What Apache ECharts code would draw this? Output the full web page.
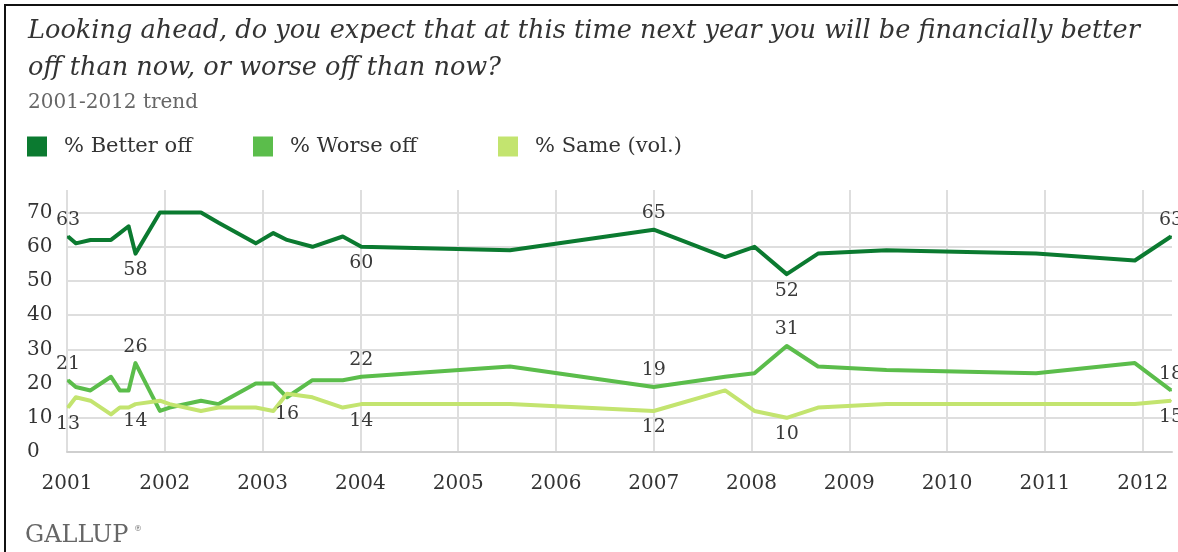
<!DOCTYPE html>
<html>
<head>
<meta charset="utf-8">
<script src="https://cdn.jsdelivr.net/npm/echarts@6/dist/echarts.min.js"></script>
<style>
html, body { margin: 0; padding: 0; background: #fff; }
#chart { width: 1178px; height: 552px; }
</style>
</head>
<body>
<div id="chart"></div>
<script>
// survey dates as decimal years
const surveyDates = [2001.01, 2001.09, 2001.24, 2001.45, 2001.54, 2001.63, 2001.70, 2001.95, 2002.05, 2002.37,
  2002.55, 2002.93, 2003.11, 2003.25, 2003.51, 2003.82, 2004.01, 2005.53, 2007.00, 2007.73,
  2008.03, 2008.36, 2008.68, 2009.38, 2010.91, 2011.92, 2012.29]
const betterOff = [63, 61, 62, 62, 64, 66, 58, 70, 70, 70, 67, 61, 64, 62, 60, 63, 60, 59, 65, 57, 60, 52, 58, 59, 58, 56, 63]
const worseOff = [21, 19, 18, 22, 18, 18, 26, 12, 13, 15, 14, 20, 20, 16, 21, 21, 22, 25, 19, 22, 23, 31, 25, 24, 23, 26, 18]
const sameVol = [13, 16, 15, 11, 13, 13, 14, 15, 14, 12, 13, 13, 12, 17, 16, 13, 14, 14, 12, 18, 12, 10, 13, 14, 14, 14, 15]

const seriesNames = ['% Better off', '% Worse off', '% Same (vol.)']
const yearTicks = [2001, 2002, 2003, 2004, 2005, 2006, 2007, 2008, 2009, 2010, 2011, 2012]

// which points carry a value label, and on which side
const betterLabels = { 0: 'top', 6: 'bottom', 16: 'bottom', 18: 'top', 21: 'bottom', 26: 'top' }
const worseLabels = { 0: 'top', 6: 'top', 13: 'bottom', 16: 'top', 18: 'top', 21: 'top', 26: 'top' }
const sameLabels = { 0: 'bottom', 6: 'bottom', 16: 'bottom', 18: 'bottom', 21: 'bottom', 26: 'bottom' }

const colors = ['#0b7a30', '#5bbd4b', '#c3e46f']
const serif = 'DejaVu Serif'

function buildData(values, labels) {
  return surveyDates.map((d, i) => {
    const item = { value: [d, values[i]] }
    if (labels[i]) {
      item.label = { show: true, position: labels[i] }
    }
    return item
  })
}

function makeSeries(name, values, labels, color) {
  return {
    name: name,
    type: 'line',
    data: buildData(values, labels),
    showSymbol: true,
    symbol: 'circle',
    symbolSize: 2,
    itemStyle: { color: color },
    lineStyle: { color: color, width: 4, join: 'round' },
    label: {
      show: false,
      color: '#3a3a3a',
      fontFamily: serif,
      fontSize: 19,
      distance: 6,
      formatter: (p) => p.value[1],
    },
    emphasis: { disabled: true },
  }
}

const legendLefts = [27, 253, 498]

const chart = echarts.init(document.getElementById('chart'))
const option = {
  animation: false,
  color: colors,
  title: [
    {
      text: 'Looking ahead, do you expect that at this time next year you will be financially better\noff than now, or worse off than now?',
      left: 28,
      top: 13,
      padding: 0,
      textStyle: {
        fontFamily: serif,
        fontStyle: 'italic',
        fontWeight: 'normal',
        fontSize: 25.6,
        lineHeight: 37,
        color: '#333',
      },
    },
    {
      text: '2001-2012 trend',
      left: 28,
      top: 93,
      padding: 0,
      textStyle: { fontFamily: serif, fontWeight: 'normal', fontSize: 20, color: '#666' },
    },
  ],
  legend: seriesNames.map((n, i) => ({
    data: [n],
    left: legendLefts[i],
    top: 136,
    padding: 0,
    itemWidth: 20,
    itemHeight: 20,
    icon: 'rect',
    selectedMode: false,
    textStyle: { fontFamily: serif, fontSize: 21, color: '#333', padding: [0, 0, 0, 12] },
  })),
  graphic: [
    { type: 'rect', shape: { x: 4, y: 4, width: 2, height: 548 }, style: { fill: '#111' } },
    { type: 'rect', shape: { x: 4, y: 4, width: 1174, height: 2 }, style: { fill: '#111' } },
    {
      type: 'text',
      left: 25,
      top: 524,
      style: { text: 'GALLUP', fontFamily: serif, fontSize: 24, fill: '#666' },
    },
    {
      type: 'text',
      left: 134,
      top: 525,
      style: { text: '®', fontFamily: serif, fontSize: 8, fill: '#666' },
    },
  ],
  grid: { left: 67, right: 6, top: 190, bottom: 100, containLabel: false },
  xAxis: {
    type: 'value',
    min: 2001,
    max: 2012.3,
    interval: 1,
    axisLine: { show: true, lineStyle: { color: '#cfcfcf', width: 2 } },
    axisTick: { show: false },
    axisLabel: {
      showMaxLabel: false,
      margin: 22,
      fontFamily: serif,
      fontSize: 20,
      color: '#333',
      formatter: (v) => (yearTicks.indexOf(v) >= 0 ? String(v) : ''),
    },
    splitLine: { show: true, showMaxLine: false, lineStyle: { color: '#dedede', width: 2 } },
  },
  yAxis: {
    type: 'value',
    min: 0,
    max: 76.6,
    interval: 10,
    axisLine: { show: false },
    axisTick: { show: false },
    axisLabel: {
      showMaxLabel: false,
      align: 'left',
      margin: 40,
      fontFamily: serif,
      fontSize: 20,
      color: '#333',
    },
    splitLine: { show: true, showMaxLine: false, lineStyle: { color: '#dedede', width: 2 } },
  },
  series: [
    makeSeries(seriesNames[0], betterOff, betterLabels, colors[0]),
    makeSeries(seriesNames[1], worseOff, worseLabels, colors[1]),
    makeSeries(seriesNames[2], sameVol, sameLabels, colors[2]),
  ],
}
chart.setOption(option)
</script>
</body>
</html>
